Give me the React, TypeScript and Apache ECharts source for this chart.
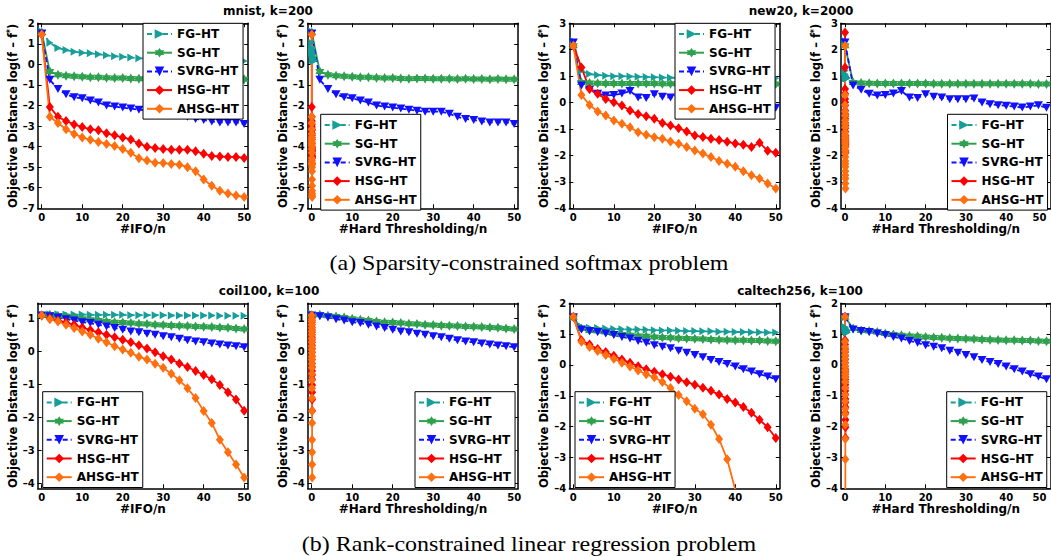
import React, { useEffect, useRef } from "react";
import * as echarts from "echarts";

const FONT = "'DejaVu Sans', 'Liberation Sans', sans-serif";
const SERIF = "'Liberation Serif', 'DejaVu Serif', serif";

const seriesNames = ["FG–HT", "SG–HT", "SVRG–HT", "HSG–HT", "AHSG–HT"];

// #IFO/n positions of the markers
const ifoX = [0, 2, 4, 6, 8, 10, 12, 14, 16, 18, 20, 22, 24, 26, 28, 30, 32, 34, 36, 38, 40, 42, 44, 46, 48, 50];
// #Hard Thresholding/n positions for FG-HT (one HT per full pass)
const fgHtX = [0, 0.02, 0.04, 0.06, 0.08, 0.1, 0.12, 0.14, 0.16, 0.18, 0.2, 0.22, 0.24, 0.26, 0.28, 0.3, 0.32, 0.34, 0.36, 0.38, 0.4, 0.42, 0.44, 0.46, 0.48, 0.5];
// #Hard Thresholding/n positions for HSG-HT / AHSG-HT (very few HT)
const fastHtX = [0, 0.004, 0.008, 0.012, 0.016, 0.02, 0.024, 0.028, 0.032, 0.036, 0.04, 0.044, 0.048, 0.052, 0.056, 0.06, 0.064, 0.068, 0.072, 0.076, 0.08, 0.084, 0.088, 0.092, 0.096, 0.1];

const xTickValues = [0, 10, 20, 30, 40, 50];
const mnistYTicks = [-7, -6, -5, -4, -3, -2, -1, 0, 1, 2];
const new20YTicks = [-4, -3, -2, -1, 0, 1, 2, 3];
const coilYTicks = [-4, -3, -2, -1, 0, 1];
const caltechYTicks = [-4, -3, -2, -1, 0, 1, 2];

// mnist, k=200
const mnistFG = [1.6, 1.05, 0.8, 0.7, 0.62, 0.57, 0.54, 0.5, 0.44, 0.4, 0.37, 0.34, 0.3, 0.28, 0.27, 0.26, 0.25, 0.24, 0.23, 0.22, 0.21, 0.2, 0.19, 0.18, 0.17, 0.16];
const mnistSG = [1.55, -0.35, -0.5, -0.55, -0.57, -0.6, -0.62, -0.63, -0.65, -0.66, -0.66, -0.68, -0.7, -0.68, -0.69, -0.7, -0.7, -0.7, -0.71, -0.7, -0.71, -0.71, -0.72, -0.71, -0.72, -0.72];
const mnistSVRG = [1.5, -0.75, -1.2, -1.45, -1.6, -1.65, -1.75, -1.85, -2.0, -2.05, -2.1, -2.15, -2.2, -2.25, -2.3, -2.3, -2.3, -2.4, -2.55, -2.65, -2.7, -2.78, -2.82, -2.82, -2.82, -2.9];
const mnistHSG = [1.45, -2.07, -2.55, -2.75, -2.92, -3.05, -3.15, -3.2, -3.35, -3.45, -3.55, -3.65, -3.85, -4.0, -4.07, -4.12, -4.15, -4.15, -4.15, -4.22, -4.35, -4.45, -4.48, -4.5, -4.5, -4.55];
const mnistAHSG = [1.45, -2.55, -2.85, -3.15, -3.38, -3.55, -3.67, -3.77, -3.87, -3.97, -4.12, -4.3, -4.57, -4.68, -4.78, -4.8, -4.84, -4.88, -5.0, -5.2, -5.6, -5.9, -6.15, -6.28, -6.38, -6.45];

// new20, k=2000
const new20FG = [2.33, 1.2, 1.08, 1.04, 1.02, 1.0, 1.0, 0.99, 0.98, 0.97, 0.96, 0.95, 0.94, 0.94, 0.94, 0.94, 0.93, 0.93, 0.93, 0.93, 0.93, 0.93, 0.93, 0.93, 0.93, 0.92];
const new20SG = [2.15, 0.76, 0.74, 0.73, 0.72, 0.72, 0.72, 0.72, 0.72, 0.72, 0.72, 0.71, 0.71, 0.71, 0.71, 0.71, 0.71, 0.71, 0.71, 0.71, 0.71, 0.71, 0.71, 0.71, 0.7, 0.7];
const new20SVRG = [2.27, 0.65, 0.49, 0.33, 0.27, 0.29, 0.34, 0.44, 0.19, 0.17, 0.32, 0.22, 0.19, 0.13, 0.13, 0.13, 0.15, 0.0, -0.06, -0.1, -0.12, -0.15, -0.19, -0.15, -0.1, -0.2];
const new20HSG = [2.15, 1.33, 0.51, 0.33, 0.14, 0.01, -0.11, -0.3, -0.43, -0.52, -0.61, -0.77, -0.87, -0.97, -1.09, -1.25, -1.3, -1.37, -1.42, -1.48, -1.55, -1.6, -1.68, -1.52, -1.82, -1.9];
const new20AHSG = [2.15, 0.29, -0.09, -0.34, -0.49, -0.68, -0.8, -0.93, -1.12, -1.22, -1.31, -1.37, -1.47, -1.56, -1.68, -1.81, -1.93, -2.06, -2.21, -2.31, -2.43, -2.6, -2.75, -2.87, -3.06, -3.25];
// HSG-HT in the #Hard Thresholding/n view starts from a higher first record
const new20HSGht = [2.65, 1.33, 0.51, 0.33, 0.14, 0.01, -0.11, -0.3, -0.43, -0.52, -0.61, -0.77, -0.87, -0.97, -1.09, -1.25, -1.3, -1.37, -1.42, -1.48, -1.55, -1.6, -1.68, -1.52, -1.82, -1.9];

// coil100, k=100
const coilFG = [1.1, 1.12, 1.12, 1.11, 1.11, 1.11, 1.1, 1.1, 1.1, 1.1, 1.1, 1.09, 1.09, 1.09, 1.09, 1.09, 1.08, 1.08, 1.08, 1.08, 1.08, 1.08, 1.07, 1.07, 1.07, 1.07];
const coilSG = [1.08, 1.1, 1.07, 1.05, 1.02, 0.98, 0.95, 0.93, 0.9, 0.88, 0.87, 0.85, 0.83, 0.82, 0.8, 0.79, 0.78, 0.77, 0.76, 0.75, 0.74, 0.73, 0.72, 0.71, 0.69, 0.67];
const coilSVRG = [1.08, 1.06, 1.02, 0.97, 0.93, 0.88, 0.85, 0.8, 0.75, 0.7, 0.65, 0.6, 0.57, 0.53, 0.5, 0.45, 0.42, 0.38, 0.33, 0.29, 0.27, 0.23, 0.2, 0.17, 0.15, 0.12];
const coilHSG = [1.08, 1.0, 0.93, 0.87, 0.8, 0.72, 0.64, 0.57, 0.5, 0.42, 0.35, 0.27, 0.18, 0.08, -0.03, -0.15, -0.25, -0.37, -0.48, -0.6, -0.72, -0.85, -1.02, -1.24, -1.46, -1.8];
const coilAHSG = [1.08, 0.97, 0.9, 0.8, 0.7, 0.6, 0.5, 0.38, 0.27, 0.15, 0.05, -0.05, -0.17, -0.25, -0.38, -0.5, -0.68, -0.88, -1.12, -1.42, -1.81, -2.17, -2.68, -3.06, -3.43, -3.82];

// caltech256, k=100
const calFG = [1.55, 1.23, 1.21, 1.2, 1.18, 1.17, 1.16, 1.15, 1.15, 1.14, 1.13, 1.12, 1.12, 1.11, 1.1, 1.1, 1.09, 1.09, 1.08, 1.08, 1.07, 1.07, 1.06, 1.06, 1.05, 1.05];
const calSG = [1.55, 1.18, 1.12, 1.1, 1.07, 1.02, 0.99, 0.96, 0.94, 0.93, 0.91, 0.89, 0.88, 0.87, 0.86, 0.85, 0.84, 0.83, 0.82, 0.81, 0.8, 0.8, 0.79, 0.79, 0.78, 0.77];
const calSVRG = [1.55, 1.15, 1.1, 1.07, 1.02, 0.97, 0.91, 0.86, 0.78, 0.72, 0.64, 0.59, 0.54, 0.46, 0.4, 0.32, 0.25, 0.16, 0.1, 0.03, -0.05, -0.14, -0.21, -0.3, -0.37, -0.46];
const calHSG = [1.56, 0.8, 0.66, 0.52, 0.42, 0.3, 0.18, 0.07, -0.04, -0.14, -0.22, -0.3, -0.38, -0.47, -0.56, -0.64, -0.74, -0.84, -0.96, -1.1, -1.22, -1.36, -1.55, -1.78, -2.02, -2.37];
const calAHSG = [1.56, 0.75, 0.58, 0.45, 0.32, 0.2, 0.07, -0.05, -0.18, -0.3, -0.4, -0.55, -0.75, -0.97, -1.18, -1.42, -1.6, -1.94, -2.4, -3.06, -4.05];

const titles = ["mnist, k=200", "new20, k=2000", "coil100, k=100", "caltech256, k=100"];
const captions = ["(a) Sparsity-constrained softmax problem", "(b) Rank-constrained linear regression problem"];

const styles = [
  { color: "#169E98", dash: true, symbol: "path://M0,0L10,5L0,10Z", size: [7, 8] },
  { color: "#2FA04E", dash: false, symbol: "path://M5,0L6.44,2.5L9.33,2.5L7.89,5L9.33,7.5L6.44,7.5L5,10L3.56,7.5L0.67,7.5L2.11,5L0.67,2.5L3.56,2.5Z", size: [9, 10] },
  { color: "#1010FF", dash: true, symbol: "path://M0,0L10,0L5,10Z", size: [9, 8] },
  { color: "#FF0000", dash: false, symbol: "diamond", size: [8, 10] },
  { color: "#FF6F0F", dash: false, symbol: "diamond", size: [8, 10] },
];

const mnist = [mnistFG, mnistSG, mnistSVRG, mnistHSG, mnistAHSG];
const new20 = [new20FG, new20SG, new20SVRG, new20HSG, new20AHSG];
const new20Ht = [new20FG, new20SG, new20SVRG, new20HSGht, new20AHSG];
const coil = [coilFG, coilSG, coilSVRG, coilHSG, coilAHSG];
const caltech = [calFG, calSG, calSVRG, calHSG, calAHSG];
const ifoXs = [ifoX, ifoX, ifoX, ifoX, ifoX];
const htXs = [fgHtX, ifoX, ifoX, fastHtX, fastHtX];

const TOP1 = 23.3;
const TOP2 = 303.3;
const H = 185;

const panels = [
  { left: 37.7, top: TOP1, width: 210.5, yMin: -7, yMax: 2, yTicks: mnistYTicks, data: mnist, ht: false, lg: [143, 23.3], edge: false },
  { left: 307.7, top: TOP1, width: 210.5, yMin: -7, yMax: 2, yTicks: mnistYTicks, data: mnist, ht: true, lg: [320.7, 114.3], edge: false },
  { left: 569.3, top: TOP1, width: 210.5, yMin: -4, yMax: 3, yTicks: new20YTicks, data: new20, ht: false, lg: [675, 23.3], edge: false },
  { left: 841, top: TOP1, width: 209.5, yMin: -4, yMax: 3, yTicks: new20YTicks, data: new20Ht, ht: true, lg: [947.5, 114.3], edge: true },
  { left: 37.7, top: TOP2, width: 210.5, yMin: -4.15, yMax: 1.45, yTicks: coilYTicks, data: coil, ht: false, lg: [42.7, 391.7], edge: false },
  { left: 307.7, top: TOP2, width: 210.5, yMin: -4.15, yMax: 1.45, yTicks: coilYTicks, data: coil, ht: true, lg: [415, 391.7], edge: false },
  { left: 569.3, top: TOP2, width: 210.5, yMin: -4, yMax: 2, yTicks: caltechYTicks, data: caltech, ht: false, lg: [575, 391.7], edge: false },
  { left: 841, top: TOP2, width: 209.5, yMin: -4, yMax: 2, yTicks: caltechYTicks, data: caltech, ht: true, lg: [946.7, 391.7], edge: true },
];

function buildOption() {
  const grid: any[] = [];
  const xAxis: any[] = [];
  const yAxis: any[] = [];
  const series: any[] = [];
  const legend: any[] = [];
  const axisLine = { show: true, onZero: false, lineStyle: { color: "#000", width: 1.5 } };
  const labelBase = { fontFamily: FONT, fontWeight: "bold", fontSize: 10, color: "#000" };

  panels.forEach((p, i) => {
    grid.push({ left: p.left, top: p.top, width: p.width, height: H, containLabel: false, outerBoundsMode: "none" });
    const tick = (vals: number[]) => ({ show: true, inside: true, length: 4, customValues: vals, lineStyle: { color: "#000", width: 1 } });
    xAxis.push({
      gridIndex: i, type: "value", min: -1, max: 51, position: "bottom",
      axisLine, axisTick: tick(xTickValues), splitLine: { show: false },
      axisLabel: { ...labelBase, customValues: xTickValues, margin: 4, ...(p.edge ? { alignMaxLabel: "right" } : {}) },
      name: p.ht ? "#Hard Thresholding/n" : "#IFO/n", nameLocation: "middle", nameGap: 13,
      nameTextStyle: { fontFamily: FONT, fontWeight: "bold", fontSize: 12, color: "#000" },
    });
    xAxis.push({
      gridIndex: i, type: "value", min: -1, max: 51, position: "top",
      axisLine, axisTick: tick(xTickValues), splitLine: { show: false }, axisLabel: { show: false },
    });
    yAxis.push({
      gridIndex: i, type: "value", min: p.yMin, max: p.yMax, position: "left",
      axisLine, axisTick: tick(p.yTicks), splitLine: { show: false },
      axisLabel: { ...labelBase, customValues: p.yTicks, margin: 3, formatter: (v: number) => String(v).replace("-", "–") },
      name: "{a|Objective Distance log(f – f}{s|*}{a|)}", nameLocation: "middle", nameGap: 17,
      nameTextStyle: {
        rich: {
          a: { fontFamily: FONT, fontWeight: "bold", fontSize: 11.5, color: "#000" },
          s: { fontFamily: FONT, fontWeight: "bold", fontSize: 8, color: "#000", verticalAlign: "top" },
        },
      },
    });
    yAxis.push({
      gridIndex: i, type: "value", min: p.yMin, max: p.yMax, position: "right",
      axisLine, axisTick: tick(p.yTicks), splitLine: { show: false }, axisLabel: { show: false },
    });
    const xsets = p.ht ? htXs : ifoXs;
    p.data.forEach((ys, k) => {
      const st = styles[k];
      const xs = xsets[k];
      series.push({
        type: "line", name: seriesNames[k], xAxisIndex: 2 * i, yAxisIndex: 2 * i,
        data: ys.map((y, j) => [xs[j], y]),
        symbol: st.symbol, symbolSize: st.size, showSymbol: true, showAllSymbol: true,
        lineStyle: { color: st.color, width: 1.8, type: st.dash ? [5, 3] : "solid" },
        itemStyle: { color: st.color, borderWidth: 0 },
        emphasis: { disabled: true }, silent: true, clip: true,
      });
    });
    legend.push({
      left: p.lg[0], top: p.lg[1], orient: "vertical", data: seriesNames,
      backgroundColor: "#fff", borderColor: "#000", borderWidth: 1, borderRadius: 0,
      padding: [4.7, 4, 4.3, 3], itemGap: 6.7, itemWidth: 25, itemHeight: 12,
      textStyle: { fontFamily: FONT, fontWeight: "bold", fontSize: 12, color: "#000", lineHeight: 12 },
      selectedMode: false, z: 10,
    });
  });

  const titlePos = [[268, 11], [801, 11], [269, 291], [800, 291]];
  const graphic: any[] = titles.map((t, i) => ({
    type: "text", x: titlePos[i][0], y: titlePos[i][1],
    style: { text: t, fontFamily: FONT, fontWeight: "bold", fontSize: 12, fill: "#000", align: "center", verticalAlign: "middle" },
  }));
  const capPos = [[529, 263], [529, 544]];
  captions.forEach((c, i) => {
    graphic.push({
      type: "text", x: capPos[i][0], y: capPos[i][1], scaleX: 1.2,
      style: { text: c, fontFamily: SERIF, fontSize: 20, fill: "#000", align: "center", verticalAlign: "middle" },
    });
  });

  return { animation: false, backgroundColor: "#fff", grid, xAxis, yAxis, series, legend, graphic };
}

export default function App() {
  const ref = useRef<HTMLDivElement>(null);
  useEffect(() => {
    if (!ref.current) return;
    const chart = echarts.init(ref.current, undefined, { renderer: "svg" });
    chart.setOption(buildOption() as any);
    return () => chart.dispose();
  }, []);
  return <div ref={ref} style={{ position: "fixed", left: 0, top: 0, width: 1051, height: 556, background: "#fff" }} />;
}
